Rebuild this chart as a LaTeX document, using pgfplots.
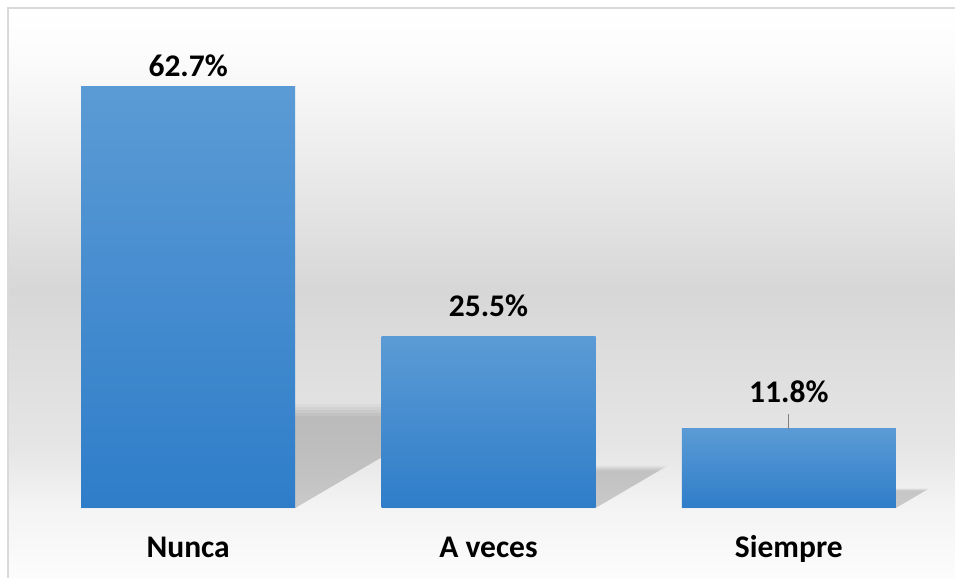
\documentclass[border=0pt]{standalone}
\usepackage{pgfplots}
\pgfplotsset{compat=1.18}
\usepackage{fontspec}
\setmainfont{Carlito}
\definecolor{barTop}{HTML}{5B9BD5}
\definecolor{barBot}{HTML}{2F7DC9}
\definecolor{frameC}{HTML}{D9D9D9}
\definecolor{leadC}{HTML}{808080}
\definecolor{bgA}{HTML}{FCFCFC}
\definecolor{bgB}{HTML}{F4F4F4}
\definecolor{bgC}{HTML}{E6E6E6}
\definecolor{bgD}{HTML}{D7D7D7}
\definecolor{bgE}{HTML}{EDEDED}
\definecolor{bgF}{HTML}{FBFBFB}
\definecolor{bgG}{HTML}{FFFFFF}
\pgfdeclareverticalshading{bgshade}{100bp}{color(0bp)=(bgA); color(25bp)=(bgA); color(31.1bp)=(bgB); color(36.2bp)=(bgC); color(50.3bp)=(bgD); color(62.5bp)=(bgE); color(70.4bp)=(bgF); color(75bp)=(bgG); color(100bp)=(bgG)}
\newcommand\labelfont{\fontsize{31.5bp}{36bp}\selectfont\bfseries}
\pgfplotsset{
  shadow/.style={draw=none, mark=none, fill=black, fill opacity=0.037, forget plot},
  barstyle/.style={ybar, bar shift=0pt, bar width=214bp, draw=none, top color=barTop, bottom color=barBot},
}
\begin{document}
\begin{tikzpicture}
\path[use as bounding box] (0,0) rectangle (955bp,578bp);
\fill[white] (0,0) rectangle (955bp,578bp);
\shade[shading=bgshade] (8.7bp,0) rectangle (955bp,569.3bp);
\draw[frameC, line width=2bp] (7.7bp,0) -- (7.7bp,570.3bp) -- (955bp,570.3bp);
\begin{axis}[
  at={(38bp,70bp)}, anchor=south west,
  scale only axis, width=901bp, height=471bp,
  xmin=-0.5, xmax=2.5, ymin=0, ymax=70,
  axis line style={draw=none}, tick style={draw=none},
  ytick=\empty, xtick={0,1,2},
  xticklabels={Nunca, A veces, Siempre},
  xticklabel style={anchor=base, yshift=-49bp, font=\labelfont},
  clip=false,
]
% shadows (five soft layers each)
\addplot[shadow] coordinates {(-0.3563,0) (0.3563,0) (0.8786,13.68) (0.1660,13.68)};
\addplot[shadow] coordinates {(-0.3563,0) (0.3563,0) (0.8952,14.11) (0.1826,14.11)};
\addplot[shadow] coordinates {(-0.3563,0) (0.3563,0) (0.9119,14.55) (0.1993,14.55)};
\addplot[shadow] coordinates {(-0.3563,0) (0.3563,0) (0.9286,14.99) (0.2160,14.99)};
\addplot[shadow] coordinates {(-0.3563,0) (0.3563,0) (0.9452,15.42) (0.2326,15.42)};
\addplot[shadow] coordinates {(0.6437,0) (1.3563,0) (1.5686,5.56) (0.8560,5.56)};
\addplot[shadow] coordinates {(0.6437,0) (1.3563,0) (1.5754,5.74) (0.8628,5.74)};
\addplot[shadow] coordinates {(0.6437,0) (1.3563,0) (1.5822,5.92) (0.8696,5.92)};
\addplot[shadow] coordinates {(0.6437,0) (1.3563,0) (1.5890,6.10) (0.8764,6.10)};
\addplot[shadow] coordinates {(0.6437,0) (1.3563,0) (1.5958,6.28) (0.8832,6.28)};
\addplot[shadow] coordinates {(1.6437,0) (2.3563,0) (2.4545,2.58) (1.7419,2.58)};
\addplot[shadow] coordinates {(1.6437,0) (2.3563,0) (2.4577,2.66) (1.7451,2.66)};
\addplot[shadow] coordinates {(1.6437,0) (2.3563,0) (2.4608,2.74) (1.7482,2.74)};
\addplot[shadow] coordinates {(1.6437,0) (2.3563,0) (2.4639,2.82) (1.7513,2.82)};
\addplot[shadow] coordinates {(1.6437,0) (2.3563,0) (2.4671,2.90) (1.7545,2.90)};
% bars (one plot per bar so each gets its own gradient)
\addplot[barstyle] coordinates {(0,62.7)};
\addplot[barstyle] coordinates {(1,25.5)};
\addplot[barstyle] coordinates {(2,11.8)};
% value labels
\node[anchor=base, font=\labelfont, yshift=9.4bp] at (axis cs:0,62.7) {62.7\%};
\node[anchor=base, font=\labelfont, yshift=19.7bp] at (axis cs:1,25.5) {25.5\%};
\node[anchor=base, font=\labelfont, yshift=25.9bp] at (axis cs:2,11.8) {11.8\%};
\draw[leadC, line width=1.3bp] (axis cs:2,11.8) -- ([yshift=14.6bp]axis cs:2,11.8);
\end{axis}
\end{tikzpicture}
\end{document}
